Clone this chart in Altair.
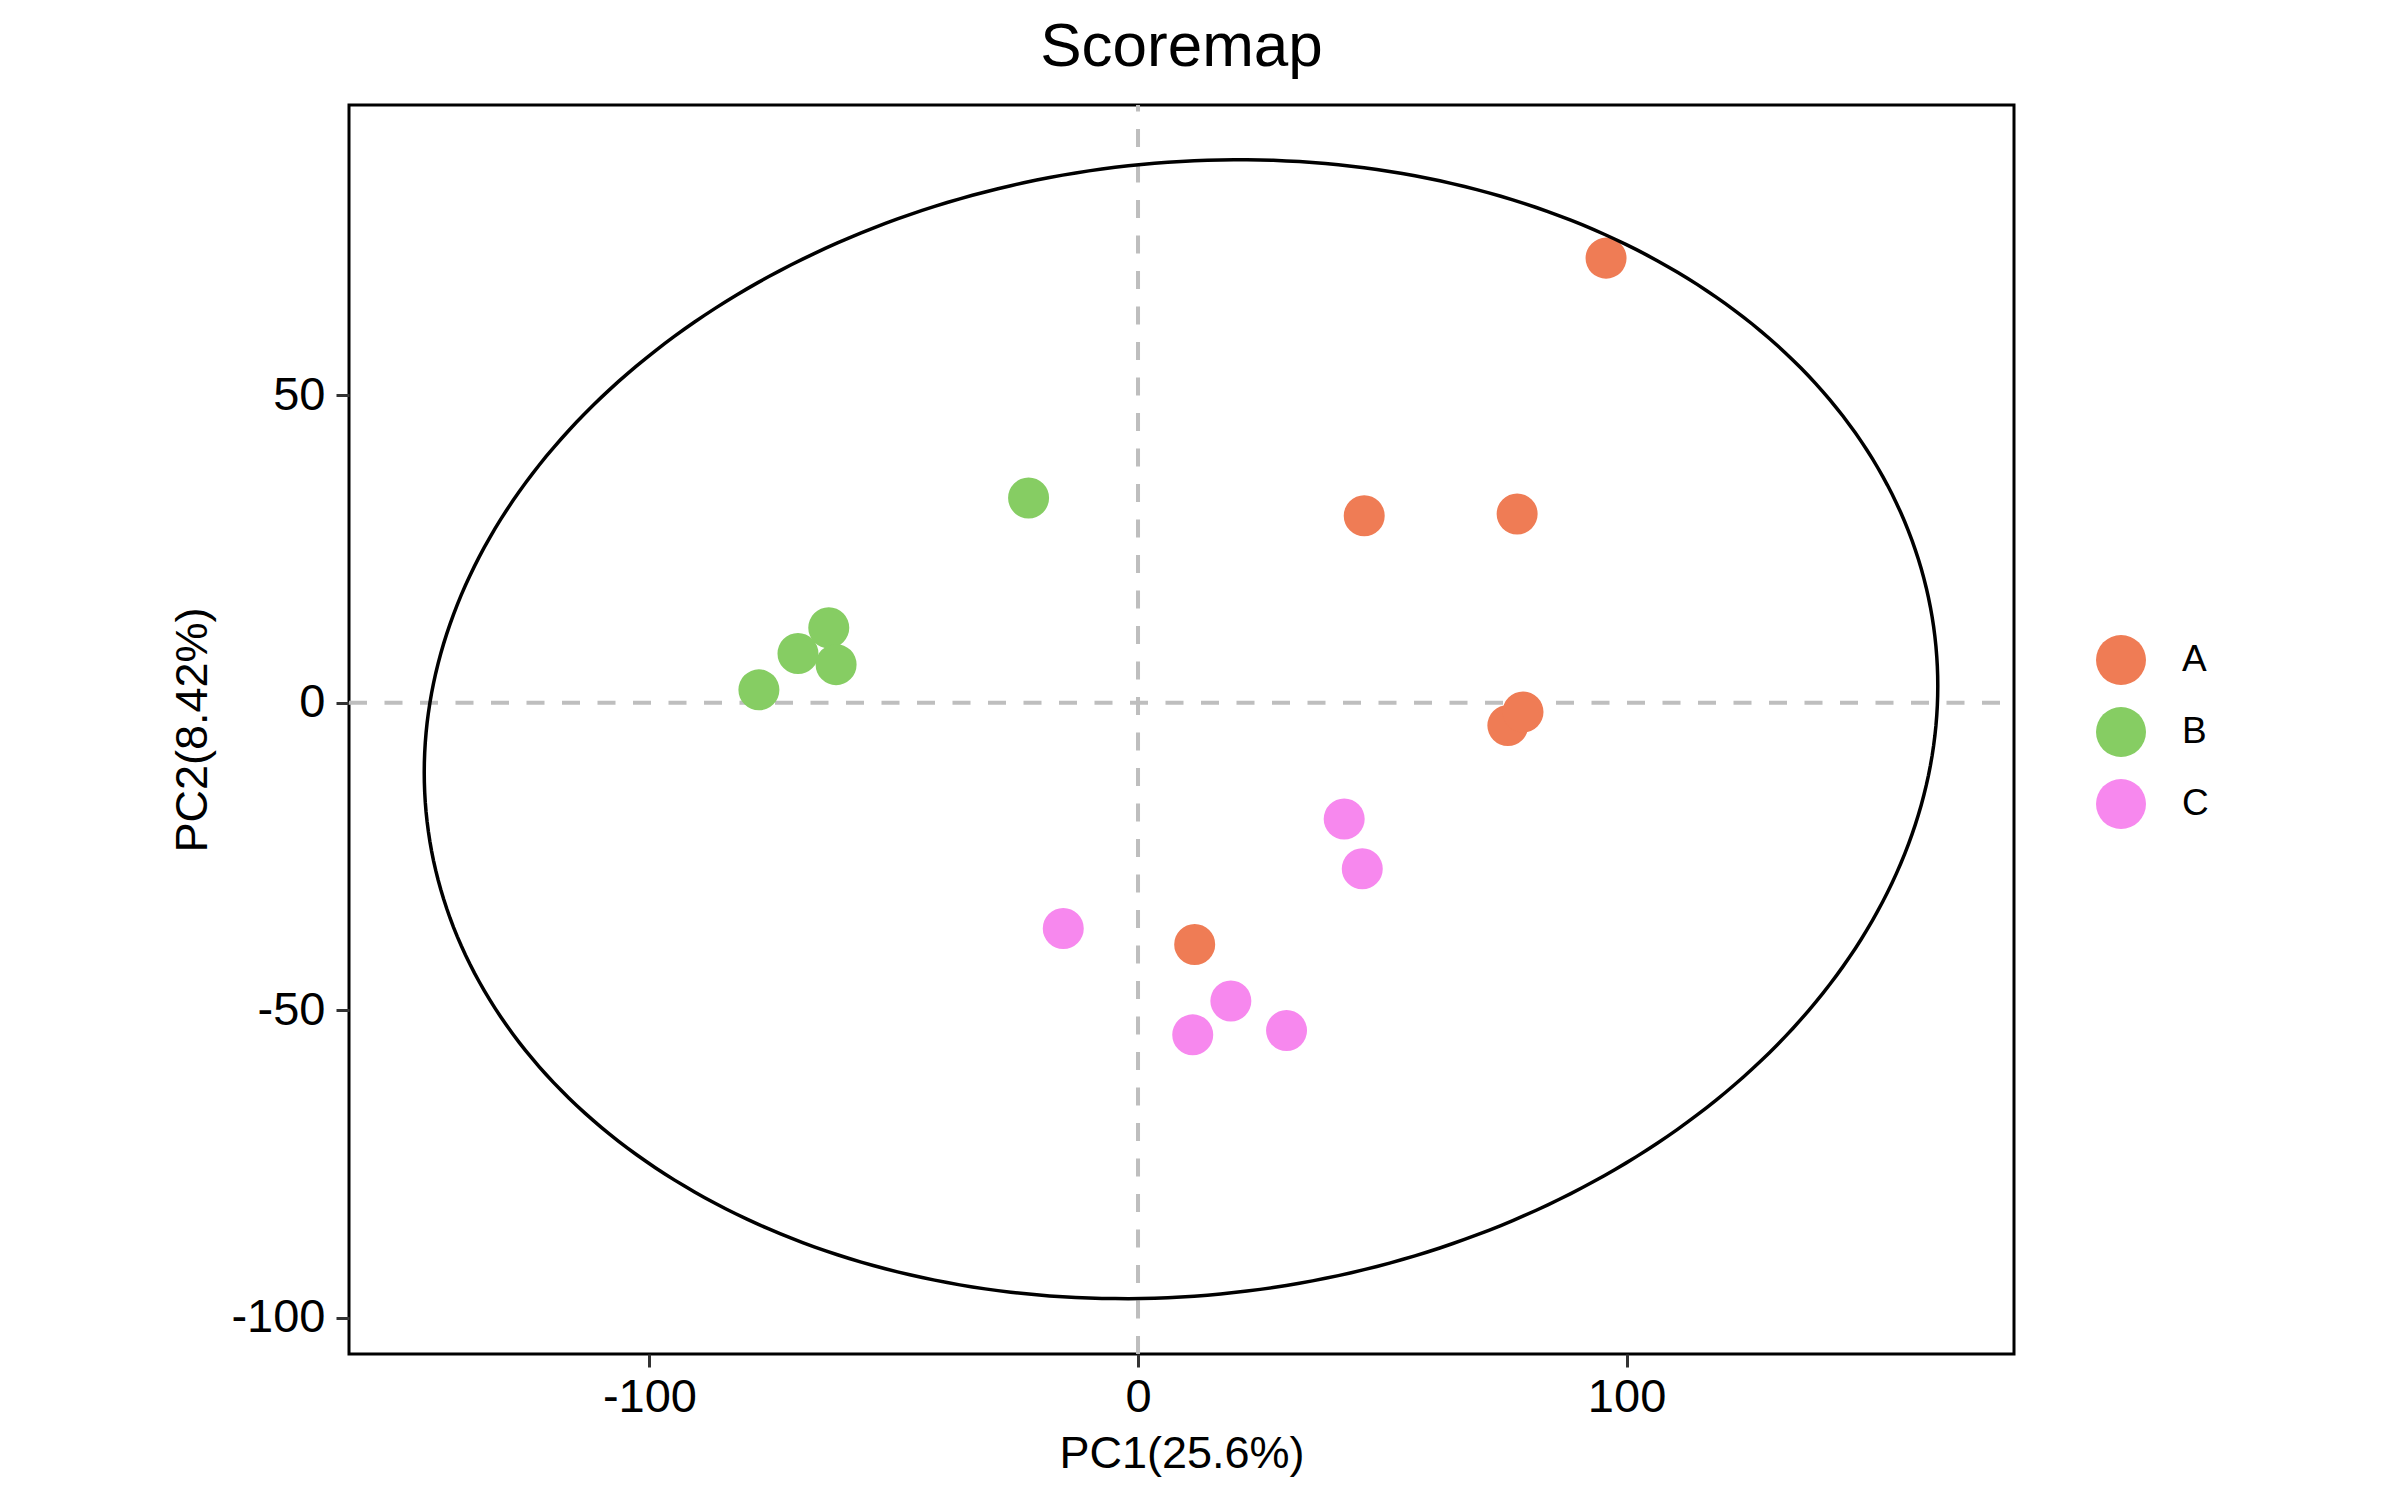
import altair as alt
import numpy as np
import pandas as pd

FONT = "Liberation Sans, Arial, Helvetica, sans-serif"

# scores, per group
a_pc1 = [95.8, 46.3, 77.6, 75.7, 78.8, 11.6]
a_pc2 = [72.3, 30.4, 30.7, -3.7, -1.5, -39.3]
b_pc1 = [-22.4, -69.6, -63.3, -61.8, -77.6]
b_pc2 = [33.3, 8.0, 12.2, 6.2, 2.1]
c_pc1 = [42.2, 45.9, -15.3, 19.0, 11.2, 30.4]
c_pc2 = [-18.9, -27.0, -36.7, -48.5, -54.0, -53.3]

groups = ["A", "B", "C"]
colors = ["#EF7C55", "#86CD63", "#F788EE"]

x_ticks = [-100, 0, 100]
y_ticks = [-100, -50, 0, 50]
x_domain = [-161.5, 179.3]
y_domain = [-105.9, 97.2]

# confidence ellipse as read: centre, half extents, phase shift between x and y
ell_cx, ell_cy = 8.8, -4.3
ell_rx, ell_ry = 154.9, 92.6
ell_delta = np.arccos(0.076)

df = pd.DataFrame(
    {
        "PC1": a_pc1 + b_pc1 + c_pc1,
        "PC2": a_pc2 + b_pc2 + c_pc2,
        "group": ["A"] * len(a_pc1) + ["B"] * len(b_pc1) + ["C"] * len(c_pc1),
    }
)
df["idx"] = np.arange(len(df))

t = np.linspace(0, 2 * np.pi, 361)
df_ell = pd.DataFrame(
    {
        "i": np.arange(len(t)),
        "PC1": ell_cx + ell_rx * np.cos(t),
        "PC2": ell_cy + ell_ry * np.cos(t - ell_delta),
    }
)

xs = alt.Scale(domain=x_domain, nice=False, zero=False)
ys = alt.Scale(domain=y_domain, nice=False, zero=False)

x_axis = alt.Axis(
    values=x_ticks, labelExpr="datum.value + ''", title="PC1(25.6%)",
    labelPadding=7, titlePadding=11,
)
y_axis = alt.Axis(
    values=y_ticks, labelExpr="datum.value + ''", title="PC2(8.42%)",
    labelPadding=11, titlePadding=15,
)

hline = (
    alt.Chart(pd.DataFrame({"x": [x_domain[0]], "x2": [x_domain[1]], "y": [0]}))
    .mark_rule(color="#BEBEBE", strokeWidth=4, strokeDash=[18, 17.5])
    .encode(x=alt.X("x:Q", scale=xs, axis=x_axis), x2="x2:Q", y=alt.Y("y:Q", scale=ys, axis=y_axis))
)
vline = (
    alt.Chart(pd.DataFrame({"x": [0], "y": [y_domain[0]], "y2": [y_domain[1]]}))
    .mark_rule(color="#BEBEBE", strokeWidth=4, strokeDash=[18, 17.5])
    .encode(x=alt.X("x:Q", scale=xs), y=alt.Y("y:Q", scale=ys), y2="y2:Q")
)

# vega circle: diameter = sqrt(size)
points = (
    alt.Chart(df)
    .mark_circle(size=1681, opacity=1)
    .encode(
        x=alt.X("PC1:Q", scale=xs),
        y=alt.Y("PC2:Q", scale=ys),
        color=alt.Color(
            "group:N",
            scale=alt.Scale(domain=groups, range=colors),
            legend=alt.Legend(
                title=None, orient="none", legendX=1747, legendY=530,
                symbolType="circle", symbolSize=2500, symbolStrokeWidth=0,
                symbolOpacity=1, labelFontSize=37, labelFont=FONT,
                labelColor="black", labelOffset=36, rowPadding=22, padding=0,
            ),
        ),
        order="idx:Q",
    )
)

ellipse = (
    alt.Chart(df_ell)
    .mark_line(color="black", strokeWidth=3.5)
    .encode(x=alt.X("PC1:Q", scale=xs), y=alt.Y("PC2:Q", scale=ys), order="i:Q")
)

chart = (
    alt.layer(hline, vline, points, ellipse)
    .properties(
        width=1665,
        height=1249,
        title=alt.TitleParams(
            "Scoremap", fontSize=62, font=FONT, fontWeight="normal",
            anchor="middle", offset=24, color="black",
        ),
        autosize=alt.AutoSizeParams(type="none"),
        padding={"left": 341, "top": 97, "right": 370, "bottom": 130},
    )
    .configure_view(stroke="black", strokeWidth=3)
    .configure_axis(
        domain=False, grid=False, tickColor="#333333", tickWidth=3, tickSize=13,
        labelFontSize=47, labelFont=FONT, labelColor="black",
        titleFontSize=45, titleFont=FONT, titleColor="black", titleFontWeight="normal",
    )
)

chart.save("out.html", embed_options={"renderer": "svg", "actions": False})
